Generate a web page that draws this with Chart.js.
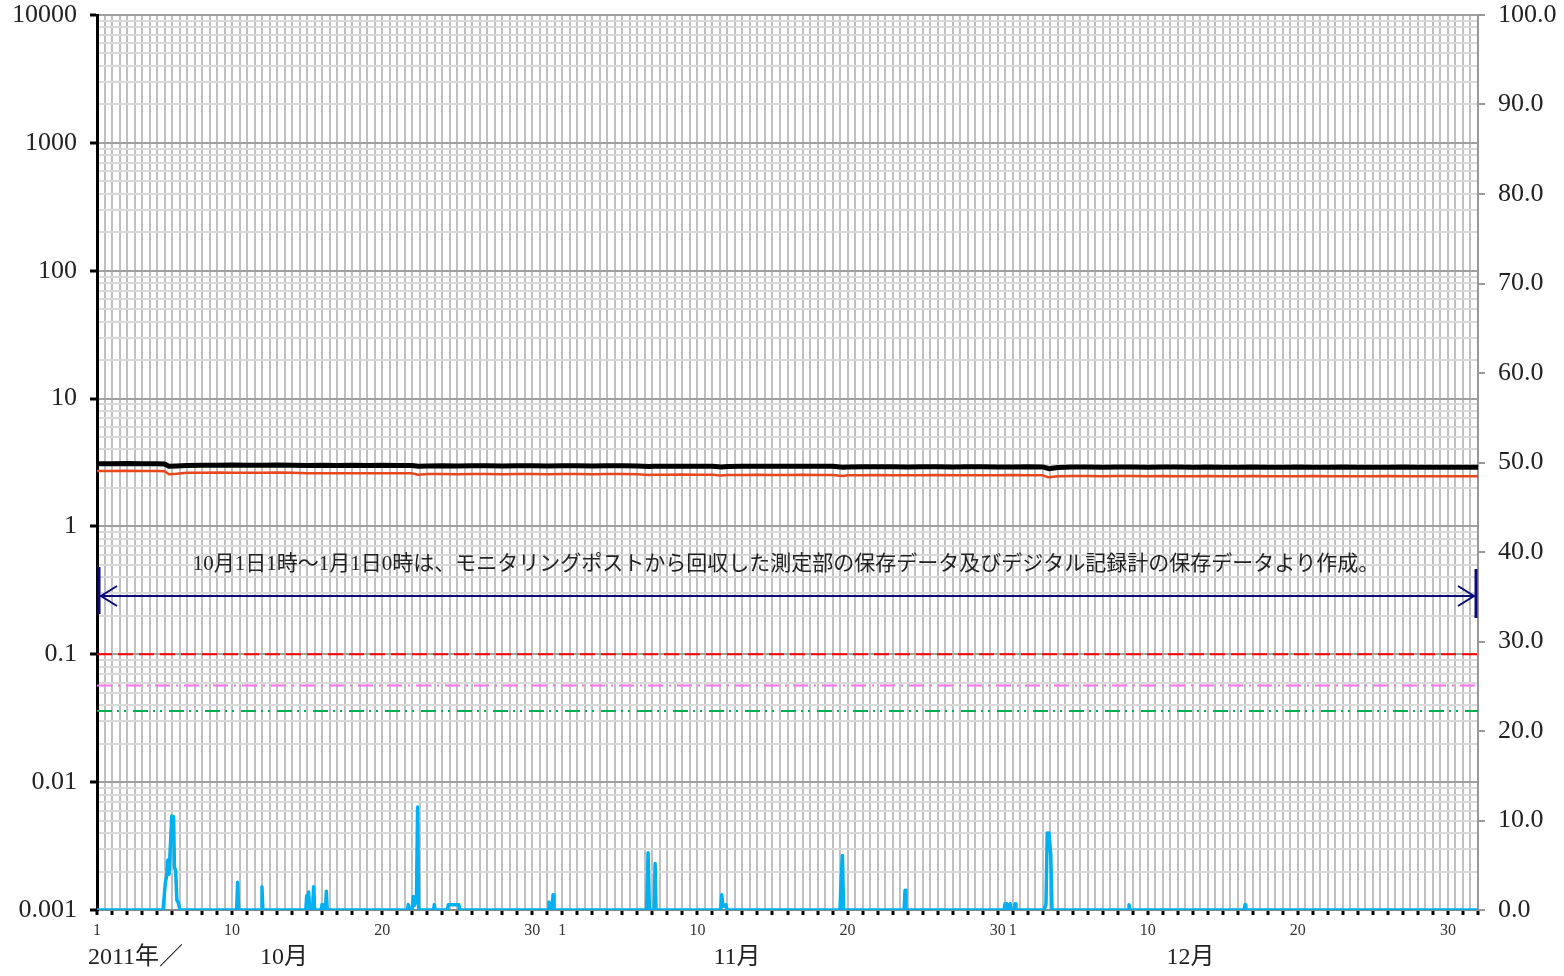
<!DOCTYPE html>
<html><head><meta charset="utf-8">
<script src="https://cdn.jsdelivr.net/npm/chart.js@4.4.1/dist/chart.umd.min.js"></script>
<style>html,body{margin:0;padding:0;background:#fff}#wrap{width:1564px;height:976px;position:relative}</style>
</head><body><div id="wrap"><canvas id="c"></canvas></div>
<script>
// ---- data (days since 2011-10-01 00:00) ----
const doseDays = [0,1,2,3,4,4.5,4.8,5.3,6,7,8,9,10,11,12,13,14,15,16,17,18,19,20,21,21.4,22,23,24,25,26,27,28,29,30,31,32,33,34,35,36,36.8,37,38,39,40,41,41.6,42,43,44,45,46,47,48,49,49.7,50,51,52,53,54,55,56,57,58,59,60,61,62,63,63.4,64,65,66,67,68,69,70,71,72,73,74,75,76,77,78,79,80,81,82,83,84,85,86,87,88,89,90,91,92];
const doseBlack = [3.09,3.09,3.10,3.09,3.09,3.08,2.95,2.97,3.00,3.01,3.01,3.02,3.01,3.01,3.02,3.01,3.00,3.01,3.00,3.01,3.00,3.01,3.00,3.00,2.96,2.97,2.98,2.97,2.98,2.98,2.97,2.98,2.98,2.97,2.98,2.98,2.97,2.98,2.98,2.97,2.94,2.95,2.96,2.96,2.96,2.95,2.92,2.94,2.95,2.95,2.96,2.95,2.96,2.95,2.95,2.90,2.92,2.93,2.93,2.93,2.92,2.93,2.93,2.92,2.93,2.93,2.92,2.92,2.93,2.92,2.83,2.89,2.91,2.91,2.90,2.91,2.91,2.90,2.91,2.91,2.90,2.91,2.90,2.90,2.91,2.90,2.90,2.91,2.90,2.90,2.91,2.90,2.90,2.90,2.91,2.90,2.90,2.90,2.90,2.90];
const doseOrange = [2.71,2.71,2.72,2.71,2.71,2.70,2.56,2.58,2.63,2.63,2.64,2.63,2.63,2.63,2.64,2.63,2.60,2.60,2.61,2.60,2.60,2.61,2.60,2.60,2.54,2.57,2.57,2.56,2.57,2.57,2.56,2.57,2.57,2.56,2.57,2.57,2.56,2.57,2.57,2.56,2.52,2.54,2.54,2.55,2.54,2.54,2.50,2.53,2.53,2.54,2.53,2.53,2.54,2.53,2.53,2.48,2.51,2.51,2.52,2.51,2.51,2.51,2.52,2.51,2.51,2.51,2.51,2.52,2.51,2.51,2.42,2.47,2.48,2.48,2.47,2.48,2.48,2.47,2.48,2.47,2.47,2.48,2.47,2.47,2.48,2.47,2.47,2.47,2.48,2.47,2.47,2.47,2.47,2.48,2.47,2.47,2.47,2.47,2.47,2.47];
const rainDays = [0,4.40,4.55,4.64,4.72,4.80,4.98,5.10,5.16,5.24,5.32,5.42,5.52,9.30,9.37,9.44,10.93,10.99,11.05,13.91,13.97,14.04,14.10,14.17,14.36,14.43,14.50,14.93,14.99,15.05,15.22,15.28,15.34,20.68,20.74,20.80,21.00,21.07,21.14,21.28,21.36,21.43,22.42,22.47,22.52,23.36,23.40,23.55,23.70,23.85,24.00,24.10,24.16,30.05,30.11,30.17,30.32,30.38,30.44,36.62,36.71,36.80,37.12,37.18,37.24,41.55,41.62,41.70,41.90,41.96,49.50,49.57,49.66,49.74,53.77,53.83,53.89,60.43,60.49,60.60,60.70,60.83,60.90,61.10,61.16,61.22,63.10,63.22,63.30,63.42,63.54,63.62,68.70,68.75,68.80,76.43,76.48,76.53,92];
const rainMM = [0,0,3.0,3.8,5.6,4.0,10.5,10.4,4.8,4.4,1.1,0.8,0,0,3.1,0,0,2.6,0,0,1.6,0.4,2.0,0,0,2.6,0,0,0.6,0,0,2.1,0,0,0.6,0,0,1.5,0.5,1.0,11.5,0,0,0.6,0,0,0.6,0.6,0.6,0.6,0.6,0.6,0,0,0.9,0,0,1.7,0,0,6.4,0,0,5.2,0,0,1.7,0.4,0.6,0,0,3.3,6.1,0,0,2.2,0,0,0.7,0.7,0,0.7,0,0,0.7,0,0,0.7,8.6,8.6,6.1,0,0,0.6,0,0,0.6,0,0];
const refLevels = [0.1, 0.057, 0.036];
const yLeftTickValues = [10000,1000,100,10,1,0.1,0.01,0.001];
const yLeftTickLabels = ['10000','1000','100','10','1','0.1','0.01','0.001'];
const yRightTickLabels = ['0.0','10.0','20.0','30.0','40.0','50.0','60.0','70.0','80.0','90.0','100.0'];
const monthNames = ['10月','11月','12月'];
const monthStartDay = [0,31,61];
const monthLength = [31,30,31];
const dayLabels = [1,10,20,30];
const yearLabel = '2011年／';
const noteText = '10月1日1時～1月1日0時は、モニタリングポストから回収した測定部の保存データ及びデジタル記録計の保存データより作成。';

const pts = (xs, ys) => xs.map((x, i) => ({x, y: ys[i]}));
const serif = "'Liberation Serif','Noto Sans CJK JP',serif";

function dayLabel(v) {
  if (Math.abs(v - Math.round(v)) > 1e-6) return '';
  const d = Math.round(v);
  for (let m = 0; m < monthStartDay.length; m++) {
    if (d >= monthStartDay[m] && d < monthStartDay[m] + monthLength[m]) {
      const dom = d - monthStartDay[m] + 1;
      return dayLabels.includes(dom) ? String(dom) : '';
    }
  }
  return '';
}
const isDecade = v => Math.abs(Math.log10(v) - Math.round(Math.log10(v))) < 1e-6;

const refDash = [[15,6],[15,6,2,6],[15,5,2,5,2,7]];
const refColor = ['#FF0000','#FF70F0','#00B050'];

const datasets = [
  {data: pts(rainDays, rainMM), yAxisID:'y2', borderColor:'#00B0F0', borderWidth:3.5, pointRadius:0, tension:0},
  {data: pts(doseDays, doseBlack), yAxisID:'y', borderColor:'#000000', borderWidth:5, pointRadius:0, tension:0},
  {data: pts(doseDays, doseOrange), yAxisID:'y', borderColor:'#E8461C', borderWidth:2.5, pointRadius:0, tension:0},
];
refLevels.forEach((lv, i) => datasets.push({data: pts([0,92],[lv,lv]), yAxisID:'y', borderColor: refColor[i], borderWidth:2, borderDash: refDash[i], pointRadius:0}));

const overlay = {
  id:'overlay',
  afterDatasetsDraw(chart) {
    const {ctx} = chart;
    ctx.save();
    ctx.fillStyle = '#222';
    ctx.font = "21px " + serif;
    ctx.textAlign = 'center'; ctx.textBaseline = 'middle';
    ctx.fillText(noteText, 786, 564);
    const ay = 596, x1 = 99, x2 = 1476;
    ctx.strokeStyle = '#0A0A78';
    ctx.lineWidth = 2;
    ctx.beginPath(); ctx.moveTo(x1+1, ay); ctx.lineTo(x2-1, ay); ctx.stroke();
    ctx.beginPath(); ctx.moveTo(x1+18, ay-10); ctx.lineTo(x1+2, ay); ctx.lineTo(x1+18, ay+10); ctx.stroke();
    ctx.beginPath(); ctx.moveTo(x2-18, ay-10); ctx.lineTo(x2-2, ay); ctx.lineTo(x2-18, ay+10); ctx.stroke();
    ctx.lineWidth = 3;
    ctx.beginPath(); ctx.moveTo(x1, 567); ctx.lineTo(x1, 614); ctx.stroke();
    ctx.beginPath(); ctx.moveTo(x2, 569); ctx.lineTo(x2, 618); ctx.stroke();
    ctx.restore();
  },
  afterDraw(chart) {
    const {ctx, scales:{x}} = chart;
    ctx.save();
    ctx.fillStyle = '#222';
    ctx.font = "24px " + serif;
    ctx.textBaseline = 'middle';
    ctx.textAlign = 'left';
    ctx.fillText(yearLabel, 88, 958);
    ctx.textAlign = 'center';
    const offs = [12.45, 11.64, 11.84];
    monthNames.forEach((m, i) => ctx.fillText(m, x.getPixelForValue(monthStartDay[i] + offs[i]), 958));
    ctx.restore();
  }
};

const noPad = s => { s.paddingTop = 0; s.paddingBottom = 0; s.paddingLeft = 0; s.paddingRight = 0; };

new Chart(document.getElementById('c'), {
  type:'line',
  data:{datasets},
  plugins:[overlay],
  options:{
    responsive:true, maintainAspectRatio:false, animation:false,
    layout:{padding:{top:15,left:0,right:0,bottom:0}},
    plugins:{legend:{display:false}, tooltip:{enabled:false}},
    elements:{line:{borderCapStyle:'butt', borderJoinStyle:'round'}},
    scales:{
      x:{type:'linear', min:0, max:92,
        afterBuildTicks(s){ const t=[]; for(let i=0;i<=184;i++) t.push({value:i/2}); s.ticks=t; },
        afterFit(s){ s.height = 66; noPad(s); },
        ticks:{autoSkip:false, maxRotation:0, minRotation:0, padding:6, color:'#333', font:{family:serif, size:16}, callback:(v)=>dayLabel(v)},
        grid:{color:'#C0C0C0', lineWidth:2, tickLength:5,
          tickColor:(c)=> (c.tick && Math.abs(c.tick.value-Math.round(c.tick.value))<1e-6) ? '#000' : 'rgba(0,0,0,0)',
          tickWidth:3},
        border:{color:'#888', width:2}
      },
      y:{type:'logarithmic', position:'left', min:0.001, max:10000,
        afterBuildTicks(s){ const t=[]; for(let e=-3;e<=4;e++){ for(let m=1;m<=9;m++){ const v=Number((m*Math.pow(10,e)).toPrecision(3)); if(v<=10000) t.push({value:v}); } } s.ticks=t; },
        afterFit(s){ s.width = 97; noPad(s); },
        ticks:{autoSkip:false, padding:13, color:'#222', font:{family:serif, size:26},
          callback:(v)=>{ const i = yLeftTickValues.findIndex(t=>Math.abs(t-v)/t<1e-6); return i>=0 ? yLeftTickLabels[i] : ''; }},
        grid:{color:(c)=> isDecade(c.tick.value) ? '#A0A0A0' : '#DADADA', lineWidth:2, tickLength:7,
          tickColor:(c)=> isDecade(c.tick.value) ? '#000' : 'rgba(0,0,0,0)', tickWidth:3},
        border:{color:'#000', width:3}
      },
      y2:{type:'linear', position:'right', min:0, max:100,
        afterFit(s){ s.width = 86; noPad(s); },
        ticks:{stepSize:10, padding:13, color:'#222', font:{family:serif, size:26},
          callback:(v)=> yRightTickLabels[Math.round(v/10)]},
        grid:{drawOnChartArea:false, color:'#999', tickLength:7, lineWidth:2},
        border:{color:'#999', width:2}
      }
    }
  }
});
</script></body></html>
